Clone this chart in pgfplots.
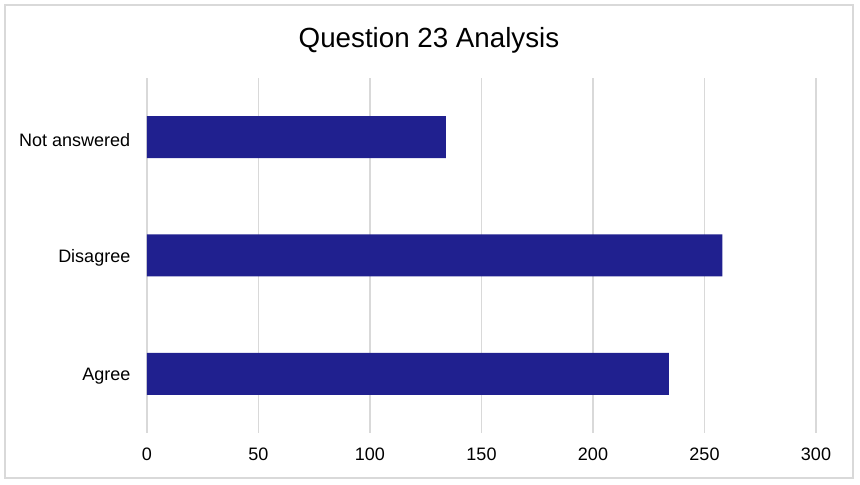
\documentclass[border=0pt]{standalone}
\usepackage{pgfplots}
\pgfplotsset{compat=1.18}
\usepackage{fontspec}
\setmainfont{Liberation Sans}
\definecolor{barblue}{RGB}{32,32,143}
\definecolor{gridgray}{RGB}{217,217,217}
\begin{document}
\begin{tikzpicture}
\useasboundingbox (-110.25pt,-39pt) rectangle (534.75pt,324.75pt);
\draw[gridgray, line width=1.5pt] (-106.5pt,-33.75pt) rectangle (529.5pt,321pt);
\begin{axis}[
  at={(0,0)}, anchor=south west,
  scale only axis,
  width=501.75pt, height=266.25pt,
  xbar, bar width=31.5pt,
  xmin=0, xmax=300,
  ymin=-0.5, ymax=2.5,
  xtick={0,50,100,150,200,250,300},
  ytick={0,1,2},
  yticklabels={Agree,Disagree,Not answered},
  axis line style={draw=none},
  major tick length=0pt,
  xmajorgrids,
  grid style={draw=gridgray, line width=1.1pt},
  tick label style={font=\fontsize{13.5}{16}\selectfont, text=black},
  /pgf/number format/assume math mode=true,
  xticklabel style={yshift=-8pt},
  yticklabel style={xshift=-9pt, yshift=-2pt},
]
\addplot[fill=barblue, draw=none] coordinates {(234,0) (258,1) (134,2)};
\end{axis}
\node[font=\fontsize{20.8}{24}\selectfont] at (211.5pt,294.75pt) {Question 23 Analysis};
\end{tikzpicture}
\end{document}
